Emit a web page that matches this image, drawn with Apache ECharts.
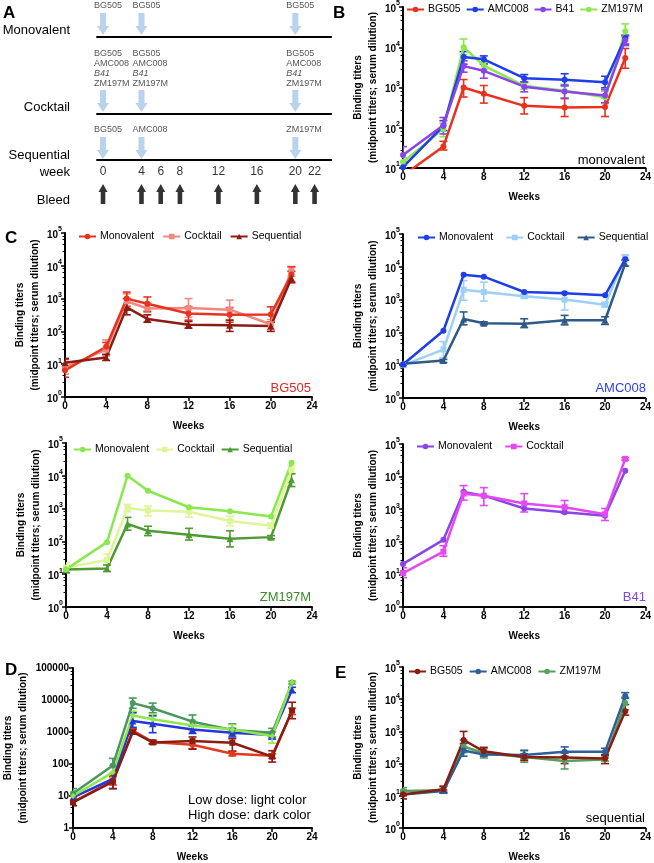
<!DOCTYPE html>
<html><head><meta charset="utf-8">
<script src="https://cdn.jsdelivr.net/npm/echarts@6/dist/echarts.min.js"></script>
<style>html,body{margin:0;padding:0;background:#fff}#c{width:654px;height:863px}</style>
</head><body><div id="c"></div>
<script>
// ---------------- DATA ----------------
const weeks = [0, 4, 6, 8, 12, 16, 20, 22];

// Panel A schedule
const immWeeks = [0, 4, 20];
const monoImm = ['BG505', 'BG505', 'BG505'];
const cocktailImm = ['BG505', 'AMC008', 'B41', 'ZM197M'];
const seqImm = ['BG505', 'AMC008', 'ZM197M'];
const bleedWeeks = [0, 4, 6, 8, 12, 16, 20, 22];

// Monovalent groups
const bg505Mono   = [6.5, 34, 1000, 700, 350, 320, 330, 5400];
const bg505MonoLo = [4, 28, 580, 410, 220, 190, 190, 3000];
const bg505MonoHi = [14, 46, 1580, 1120, 560, 530, 560, 9300];
const amcMono   = [10.5, 112, 5700, 5000, 1700, 1550, 1350, 17000];
const amcMonoLo = [9, 85, 3800, 3900, 1380, 1100, 980, 12000];
const amcMonoHi = [12, 150, 7800, 6100, 2100, 2200, 1900, 20000];
const b41Mono   = [21, 115, 3400, 2600, 1050, 800, 630, 15000];
const b41MonoLo = [13, 70, 2400, 1700, 780, 540, 420, 11000];
const b41MonoHi = [34, 180, 4600, 3800, 1350, 1150, 880, 19000];
const zmMono   = [14, 95, 10000, 3500, 1100, 830, 570, 25000];
const zmMonoLo = [10, 60, 6500, 2800, 900, 550, 400, 17000];
const zmMonoHi = [18, 130, 16000, 4300, 1300, 1200, 800, 38000];

// Cocktail groups
const bg505Cock   = [8, 28, 830, 500, 520, 460, 165, 7000];
const bg505CockLo = [5, 18, 500, 380, 270, 220, 115, 4800];
const bg505CockHi = [12, 55, 1400, 750, 1000, 900, 230, 9500];
const amcCock   = [10, 30, 2000, 1700, 1260, 1000, 700, 19500];
const amcCockLo = [9, 17, 950, 900, 1100, 480, 600, 17000];
const amcCockHi = [13, 52, 3800, 3400, 1450, 1750, 820, 23000];
const zmCock   = [16, 27, 1050, 870, 800, 420, 300, 15000];
const zmCockLo = [12, 20, 800, 600, 550, 300, 250, 11000];
const zmCockHi = [22, 42, 1350, 1200, 1150, 580, 360, 20000];
const b41Cock   = [11, 50, 3000, 2600, 1500, 1150, 700, 35000];
const b41CockLo = [8, 36, 1900, 1300, 820, 750, 450, 32000];
const b41CockHi = [16, 76, 5300, 4600, 3000, 1850, 1050, 38000];

// Sequential group
const bg505Seq   = [11, 16, 540, 240, 160, 155, 145, 4200];
const bg505SeqLo = [8, 13, 320, 190, 125, 100, 100, 3200];
const bg505SeqHi = [15, 20, 1000, 320, 200, 220, 190, 6800];
const amcSeq   = [11, 14, 255, 190, 185, 235, 235, 12500];
const amcSeqLo = [10, 12, 170, 170, 140, 170, 175, 10500];
const amcSeqHi = [12, 15, 420, 210, 260, 330, 300, 16000];
const zmSeq   = [14, 15, 340, 210, 160, 120, 135, 7600];
const zmSeqLo = [11, 12, 220, 150, 110, 68, 120, 4700];
const zmSeqHi = [18, 19, 540, 290, 250, 210, 150, 11500];

// Panel D (low vs high dose)
const dBg505Low   = [6.5, 30, 1100, 490, 400, 210, 180, 4500];
const dBg505LowLo = [5, 22, 900, 430, 300, 180, 150, 3500];
const dBg505LowHi = [8, 40, 1300, 560, 520, 250, 210, 5500];
const dBg505High   = [6.3, 28, 1000, 470, 520, 460, 170, 4700];
const dBg505HighLo = [5, 17, 850, 420, 290, 250, 115, 2600];
const dBg505HighHi = [8, 45, 1200, 540, 700, 620, 260, 8500];
const dAmc   = [9, 34, 2200, 1800, 1200, 950, 800, 21000];
const dAmcLo = [7, 17, 1400, 950, 900, 700, 600, 17000];
const dAmcHi = [12, 50, 4000, 3200, 1600, 1300, 1000, 25000];
const dZmHigh   = [12, 90, 8000, 5500, 2100, 1150, 950, 35000];
const dZmHighLo = [9, 50, 5500, 4000, 1500, 850, 700, 32000];
const dZmHighHi = [17, 150, 11500, 8000, 3400, 1800, 1300, 38000];
const dZmLow   = [10, 55, 3300, 2500, 1600, 1200, 750, 36000];
const dZmLowLo = [8, 35, 2200, 1500, 1100, 800, 450, 33000];
const dZmLowHi = [15, 90, 4500, 3600, 2300, 1700, 1000, 39000];

// ---------------- STYLE ----------------
const FONT = '"Liberation Sans", Arial, Helvetica, sans-serif';
const C = {
  bgMono: '#e8321e', bgCock: '#ee8a82', bgSeq: '#8b1c12',
  amcMono: '#1e3ee8', amcCock: '#9ed0f7', amcSeq: '#2f5a88',
  zmMono: '#8ae84e', zmCock: '#def59a', zmSeq: '#4f9a32',
  b41Mono: '#8b44ea', b41Cock: '#e448f0',
  eBg: '#8b1c12', eAmc: '#2f5f98', eZm: '#55a05e',
  dBgLow: '#e23a1e', dBgHigh: '#8b1c12', dAmc: '#2536e0', dZmHigh: '#4a9660', dZmLow: '#8ee84a'
};

const grids = [
  {left: 403, top: 6, width: 244, height: 162},   // 0 B
  {left: 65, top: 233, width: 247, height: 164},  // 1 C BG505
  {left: 403, top: 234, width: 244, height: 164}, // 2 C AMC008
  {left: 66, top: 443, width: 246, height: 164},  // 3 C ZM197M
  {left: 403, top: 444, width: 244, height: 163}, // 4 C B41
  {left: 66, top: 668, width: 246, height: 160},  // 5 D
  {left: 403, top: 667, width: 244, height: 162}, // 6 E
  {left: 93.4, top: 0, width: 240.4, height: 205} // 7 A schematic
];

const axisLine = {show: true, lineStyle: {color: '#000', width: 2}};
const axisTick = {show: true, inside: false, length: 4, lineStyle: {color: '#000', width: 1.5}};
const boldText = {fontFamily: FONT, fontWeight: 'bold', fontSize: 10, color: '#000'};

const xAxes = [], yAxes = [];
function addAxes(gi, ymin, ymax, plain, nameGap) {
  xAxes.push({
    gridIndex: gi, type: 'value', min: 0, max: 24, interval: 4,
    axisLine, axisTick, splitLine: {show: false},
    axisLabel: Object.assign({margin: 4}, boldText),
    name: 'Weeks', nameLocation: 'middle', nameGap: 24, nameTextStyle: boldText
  });
  yAxes.push({
    gridIndex: gi, type: 'log', logBase: 10, min: ymin, max: ymax,
    axisLine, axisTick, splitLine: {show: false},
    minorTick: {show: true, splitNumber: 5, length: 2.5, lineStyle: {color: '#000', width: 1}},
    axisLabel: plain ? Object.assign({margin: 4, formatter: v => String(Math.round(v))}, boldText) : {
      margin: 3,
      formatter: v => '{b|10}{s|' + Math.round(Math.log10(v)) + '}',
      rich: {
        b: {fontFamily: FONT, fontWeight: 'bold', fontSize: 10, color: '#000', verticalAlign: 'bottom', lineHeight: 14},
        s: {fontFamily: FONT, fontWeight: 'bold', fontSize: 7, color: '#000', verticalAlign: 'top', lineHeight: 14}
      }
    },
    name: 'Binding titers\n(midpoint titers; serum dilution)', nameLocation: 'middle',
    nameGap: nameGap, nameRotate: 90,
    nameTextStyle: Object.assign({lineHeight: 15}, boldText)
  });
}
addAxes(0, 10, 100000, false, 19);
addAxes(1, 1, 100000, false, 19);
addAxes(2, 1, 100000, false, 19);
addAxes(3, 1, 100000, false, 19);
addAxes(4, 1, 100000, false, 19);
addAxes(5, 1, 100000, true, 42);
addAxes(6, 1, 100000, false, 19);
// schematic axes
xAxes.push({gridIndex: 7, type: 'value', min: -1, max: 24, show: false});
yAxes.push({gridIndex: 7, type: 'value', min: 0, max: 205, inverse: true, show: false});

function renderErr(params, api) {
  const x = api.value(0), lo = api.value(1), hi = api.value(2);
  const p1 = api.coord([x, lo]), p2 = api.coord([x, hi]);
  const hw = 4;
  const style = {stroke: api.visual('color'), lineWidth: 1.6, fill: null};
  return {type: 'group', children: [
    {type: 'line', shape: {x1: p1[0], y1: p1[1], x2: p2[0], y2: p2[1]}, style},
    {type: 'line', shape: {x1: p1[0] - hw, y1: p1[1], x2: p1[0] + hw, y2: p1[1]}, style},
    {type: 'line', shape: {x1: p2[0] - hw, y1: p2[1], x2: p2[0] + hw, y2: p2[1]}, style}
  ]};
}

const series = [];
function addLine(gi, name, vals, color, symbol, lo, hi) {
  if (lo) {
    series.push({
      type: 'custom', name: name + '#err', xAxisIndex: gi, yAxisIndex: gi,
      data: weeks.map((w, i) => [w, lo[i], hi[i]]),
      encode: {x: 0, y: [1, 2]}, renderItem: renderErr, clip: true, silent: true,
      itemStyle: {color}, z: 2
    });
  }
  series.push({
    type: 'line', name, xAxisIndex: gi, yAxisIndex: gi,
    data: weeks.map((w, i) => [w, vals[i]]),
    symbol, symbolSize: symbol === 'triangle' ? 7 : 6, showSymbol: true,
    lineStyle: {color, width: 2.5}, itemStyle: {color}, clip: true, z: 3, silent: true
  });
}

// B
addLine(0, 'B|ZM197M', zmMono, C.zmMono, 'circle', zmMonoLo, zmMonoHi);
addLine(0, 'B|BG505', bg505Mono, C.bgMono, 'circle', bg505MonoLo, bg505MonoHi);
addLine(0, 'B|AMC008', amcMono, C.amcMono, 'circle', amcMonoLo, amcMonoHi);
addLine(0, 'B|B41', b41Mono, C.b41Mono, 'circle', b41MonoLo, b41MonoHi);
// C BG505
addLine(1, 'C1|Cocktail', bg505Cock, C.bgCock, 'rect', bg505CockLo, bg505CockHi);
addLine(1, 'C1|Monovalent', bg505Mono, C.bgMono, 'circle', bg505MonoLo, bg505MonoHi);
addLine(1, 'C1|Sequential', bg505Seq, C.bgSeq, 'triangle', bg505SeqLo, bg505SeqHi);
// C AMC008
addLine(2, 'C2|Cocktail', amcCock, C.amcCock, 'rect', amcCockLo, amcCockHi);
addLine(2, 'C2|Sequential', amcSeq, C.amcSeq, 'triangle', amcSeqLo, amcSeqHi);
addLine(2, 'C2|Monovalent', amcMono, C.amcMono, 'circle');
// C ZM197M
addLine(3, 'C3|Cocktail', zmCock, C.zmCock, 'rect', zmCockLo, zmCockHi);
addLine(3, 'C3|Sequential', zmSeq, C.zmSeq, 'triangle', zmSeqLo, zmSeqHi);
addLine(3, 'C3|Monovalent', zmMono, C.zmMono, 'circle');
// C B41
addLine(4, 'C4|Monovalent', b41Mono, C.b41Mono, 'circle');
addLine(4, 'C4|Cocktail', b41Cock, C.b41Cock, 'rect', b41CockLo, b41CockHi);
// D
addLine(5, 'D|BG505 low', dBg505Low, C.dBgLow, 'circle', dBg505LowLo, dBg505LowHi);
addLine(5, 'D|AMC008', dAmc, C.dAmc, 'triangle', dAmcLo, dAmcHi);
addLine(5, 'D|ZM197M high', dZmHigh, C.dZmHigh, 'circle', dZmHighLo, dZmHighHi);
addLine(5, 'D|ZM197M low', dZmLow, C.dZmLow, 'diamond', dZmLowLo, dZmLowHi);
addLine(5, 'D|BG505 high', dBg505High, C.dBgHigh, 'rect', dBg505HighLo, dBg505HighHi);
// E
addLine(6, 'E|ZM197M', zmSeq, C.eZm, 'circle', zmSeqLo, zmSeqHi);
addLine(6, 'E|AMC008', amcSeq, C.eAmc, 'circle', amcSeqLo, amcSeqHi);
addLine(6, 'E|BG505', bg505Seq, C.eBg, 'circle', bg505SeqLo, bg505SeqHi);

// ---------------- Panel A schematic ----------------
const rowY = {monoLbl: 1, monoArrow: 24, monoLine: 37, cockLbl: 49, cockArrow: 101, cockLine: 114,
  seqLbl: 125, seqArrow: 148, seqLine: 160, week: 172, bleed: 194};
const blueArrow = 'path://M3,0L9,0L9,13L12,13L6,22L0,13L3,13Z';
const blackArrow = 'path://M4.5,0L9,8L6.8,8L6.8,20L2.2,20L2.2,8L0,8Z';
[rowY.monoLine, rowY.cockLine, rowY.seqLine].forEach(y => {
  series.push({type: 'line', xAxisIndex: 7, yAxisIndex: 7, data: [[-0.7, y], [23.8, y]], symbol: 'none',
    lineStyle: {color: '#000', width: 2}, silent: true});
});
[rowY.monoArrow, rowY.cockArrow, rowY.seqArrow].forEach(y => {
  series.push({type: 'scatter', xAxisIndex: 7, yAxisIndex: 7, data: immWeeks.map(w => [w, y]),
    symbol: blueArrow, symbolSize: [12, 22], symbolKeepAspect: false, itemStyle: {color: '#a9c8e8'}, silent: true});
});
series.push({type: 'scatter', xAxisIndex: 7, yAxisIndex: 7, data: bleedWeeks.map(w => [w, rowY.bleed]),
  symbol: blackArrow, symbolSize: [9, 20], symbolKeepAspect: false, itemStyle: {color: '#000'}, silent: true});
const smallLbl = {fontFamily: FONT, fontSize: 9, color: '#2a2a2a', lineHeight: 9.8, align: 'left', verticalAlign: 'top'};
function labelSeries(y, texts) {
  series.push({type: 'scatter', xAxisIndex: 7, yAxisIndex: 7, symbolSize: 0, silent: true,
    data: immWeeks.map((w, i) => ({value: [w, y], label: {formatter: texts[i]}})),
    label: Object.assign({show: true, position: [-9, 0], rich: {i: {fontStyle: 'italic', fontFamily: FONT, fontSize: 9, color: '#2a2a2a', lineHeight: 9.8}}}, smallLbl)});
}
labelSeries(rowY.monoLbl, monoImm);
const cockText = cocktailImm.map(s => s === 'B41' ? '{i|' + s + '}' : s).join('\n');
labelSeries(rowY.cockLbl, immWeeks.map(() => cockText));
labelSeries(rowY.seqLbl, seqImm);
series.push({type: 'scatter', xAxisIndex: 7, yAxisIndex: 7, symbolSize: 0, silent: true,
  data: bleedWeeks.map(w => [w, rowY.week]),
  label: {show: true, position: 'inside', formatter: p => String(p.value[0]), fontFamily: FONT, fontSize: 12, color: '#000'}});

// ---------------- Legends ----------------
function legend(names, left, top, gap) {
  return {data: names, left, top, itemWidth: 17, itemHeight: 7, itemGap: gap, padding: 0,
    selectedMode: false, formatter: n => n.split('|')[1],
    textStyle: {fontFamily: FONT, fontSize: 10.5, color: '#000', padding: [0, 0, 0, -1]}};
}
const legends = [
  legend(['B|BG505', 'B|AMC008', 'B|B41', 'B|ZM197M'], 406, 4, 5),
  legend(['C1|Monovalent', 'C1|Cocktail', 'C1|Sequential'], 78, 231, 8),
  legend(['C2|Monovalent', 'C2|Cocktail', 'C2|Sequential'], 417, 232, 12),
  legend(['C3|Monovalent', 'C3|Cocktail', 'C3|Sequential'], 73, 444, 6),
  legend(['C4|Monovalent', 'C4|Cocktail'], 416, 441, 12),
  legend(['E|BG505', 'E|AMC008', 'E|ZM197M'], 408, 666, 6)
];

// ---------------- Texts ----------------
function txt(x, y, text, opt) {
  return Object.assign({type: 'text', x, y, silent: true,
    style: Object.assign({text, font: '13px ' + FONT, fill: '#000', align: 'left', verticalAlign: 'middle'}, opt || {})});
}
const graphics = [
  txt(3, 13, 'A', {font: 'bold 17px ' + FONT}),
  txt(333, 13, 'B', {font: 'bold 17px ' + FONT}),
  txt(5, 238, 'C', {font: 'bold 17px ' + FONT}),
  txt(5, 670, 'D', {font: 'bold 17px ' + FONT}),
  txt(335, 673, 'E', {font: 'bold 17px ' + FONT}),
  txt(70, 30, 'Monovalent', {align: 'right'}),
  txt(70, 107, 'Cocktail', {align: 'right'}),
  txt(70, 155, 'Sequential', {align: 'right'}),
  txt(70, 172, 'week', {align: 'right'}),
  txt(70, 200, 'Bleed', {align: 'right'}),
  txt(645, 160, 'monovalent', {align: 'right'}),
  txt(311, 388, 'BG505', {align: 'right', fill: '#e0282a'}),
  txt(646, 388, 'AMC008', {align: 'right', fill: '#2f3ff0'}),
  txt(311, 597, 'ZM197M', {align: 'right', fill: '#3e8a2f'}),
  txt(646, 597, 'B41', {align: 'right', fill: '#8844e0'}),
  txt(645, 818, 'sequential', {align: 'right'}),
  txt(188, 800, 'Low dose: light color'),
  txt(188, 815, 'High dose: dark color')
];

const chart = echarts.init(document.getElementById('c'), null, {renderer: 'canvas'});
chart.setOption({
  animation: false, backgroundColor: '#fff',
  grid: grids, xAxis: xAxes, yAxis: yAxes, legend: legends, series, graphic: graphics
});
</script></body></html>
